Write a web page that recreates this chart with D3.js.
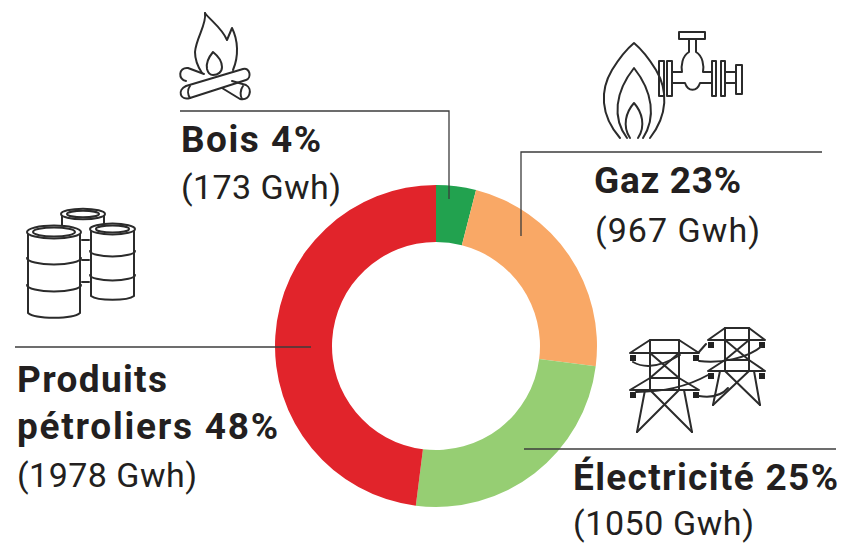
<!DOCTYPE html>
<html><head><meta charset="utf-8">
<script src="https://cdn.jsdelivr.net/npm/d3@7/dist/d3.min.js"></script>
<style>html,body{margin:0;background:#fff}svg{display:block}text{font-family:Roboto,sans-serif;fill:#231f20}</style>
</head><body><svg id="c" width="846" height="544"></svg>
<script>
const categories=["Bois","Gaz","Électricité","Produits pétroliers"];
const shares=[4,23,25,48];
const colors=["#22a24f","#f9a866","#96ce73","#e1242b"];
const svg=d3.select("#c");
const cx=436,cy=346,R=161,r=104;
const pie=d3.pie().sort(null).value(d=>d)(shares);
const arc=d3.arc().innerRadius(r).outerRadius(R);
svg.append("g").attr("transform",`translate(${cx},${cy})`).selectAll("path").data(pie).join("path")
  .attr("d",arc).attr("fill",(d,i)=>colors[i]);

const leaders=["M180,111H449V199","M822,152H521V236","M524,449H836","M15,347H311"];
svg.append("g").selectAll("path").data(leaders).join("path").attr("d",d=>d)
  .attr("fill","none").attr("stroke","#3c3c3c").attr("stroke-width",1.3);

// [text, x, baseline, bold, width]
const labels=[
 ["Bois 4%",181,152,1,140],["(173 Gwh)",181,199,0,160],
 ["Gaz 23%",594,193,1,147],["(967 Gwh)",595,242,0,165],
 ["Électricité 25%",573,490,1,265],["(1050 Gwh)",573,535,0,181],
 ["Produits",17,392,1,150],["pétroliers 48%",17,439,1,261],["(1978 Gwh)",17,487,0,180]];
svg.append("g").selectAll("text").data(labels).join("text")
  .attr("x",d=>d[1]).attr("y",d=>d[2]).text(d=>d[0])
  .attr("font-size",d=>d[3]?37:34).attr("font-weight",d=>d[3]?700:400)
  .attr("textLength",d=>d[4]).attr("lengthAdjust","spacing");

const icons=svg.append("g").attr("fill","none").attr("stroke","#2b2b2b").attr("stroke-width",2).attr("stroke-linejoin","round").attr("stroke-linecap","round");
const p=d=>icons.append("path").attr("d",d);
// fire
p("M205,13C210,20 222,28 227,40L232,28C238,40 239,56 233,70");
p("M205,13C207,24 196,38 195,52C195,60 198,67 202,73");
p("M213,52C208,58 206,64 207,69C208,73 210,75 213,75C218,75 222,72 222,67C222,62 218,56 213,52Z");
p("M186,86L243,69C250,67 252,78 246,80L190,98C180,101 177,90 186,86Z");
p("M190,86C187,90 188,95 190,98");
p("M204,74L188,68C178,67 178,80 186,81");
p("M222,88L240,99C250,101 253,89 246,85L232,81");
p("M243,86C240,90 240,96 242,99");
// barrels
function barrel(x0,x1,top,bot,bands,closed){
  const rx=(x1-x0)/2,ry=rx*0.24;
  if(closed) p(`M${x0+1},${top}V${bot}A${rx},${ry} 0 0 0 ${x1-1},${bot}V${top}Z`).attr("fill","#fff");
  else p(`M${x0+1},${top}V${bot}M${x1-1},${top}V${bot}`);
  p(`M${x0},${top}A${rx},${ry} 0 1 1 ${x1},${top}A${rx},${ry} 0 1 1 ${x0},${top}Z`).attr("fill","#fff");
  p(`M${x0+6},${top}A${rx-6},${ry-2} 0 1 1 ${x1-6},${top}A${rx-6},${ry-2} 0 1 1 ${x0+6},${top}Z`);
  bands.forEach(y=>p(`M${x0},${y}A${rx},${ry} 0 0 0 ${x1},${y}`));
}
barrel(61,105,214,232,[],false);
p("M82,240H89M82,260H89M82,282H89");
barrel(27,81,232,313,[258,285],true);
barrel(90,135,229,296,[251,275],true);
// gas flame
p("M620,138C600,115 600,90 612,70C620,57 628,48 634,43C640,48 648,57 656,70C668,90 668,115 650,138");
p("M627,138C612,118 615,92 634,68C653,92 656,118 643,138");
p("M630,138C622,126 626,112 634,103C642,112 646,126 638,138");
// valve
p("M679,32H705V39H679Z");
p("M689,39V52C682,56 681,66 682,72H672M696,39V52C703,56 704,66 703,72H712");
p("M672,83H685C688,92 697,92 700,83H712M725,72H736M725,83H736");
[[659,61,664,96],[667,61,672,96],[712,61,716,96],[721,61,725,96],[736,65,742,94]].forEach(b=>p(`M${b[0]},${b[1]}H${b[2]}V${b[3]}H${b[0]}Z`));
// pylons
function pylon(x0,x1,ax0,ax1,t1,a1,t2,a2,fx0,fx1,fy,lx0,lx1){
  const m=[`M${x0},${t1}H${x1}L${ax1},${a1}H${ax0}Z`,`M${x0},${t2}H${x1}L${ax1},${a2}H${ax0}Z`,
   `M${x0},${t1}V${a2}M${x1},${t1}V${a2}`,`M${x0},${a1}L${x1},${t2}M${x1},${a1}L${x0},${t2}`,
   `M${lx0},${a2}L${fx0},${fy}M${lx1},${a2}L${fx1},${fy}`,`M${x0},${a2}L${fx1},${fy}M${x1},${a2}L${fx0},${fy}`];
  m.forEach(p);
  [[ax0,a1],[ax1,a1],[ax0,a2],[ax1,a2]].forEach(q=>icons.append("rect").attr("x",q[0]+(q[0]===ax0?0:-6)).attr("y",q[1]+2).attr("width",6).attr("height",6).attr("fill","#222").attr("stroke","none"));
}
pylon(650,679,630,699,340,353,378,390,637,692,432,645,684);
pylon(725,749,708,765,328,340,360,371,713,760,405,720,754);
p("M699,352L706,344");
p("M633,362C645,369 662,366 680,355");
p("M699,361C720,364 748,358 762,346");
p("M636,392C665,392 690,385 708,375");
p("M699,396C712,398 722,395 728,388");
</script></body></html>
